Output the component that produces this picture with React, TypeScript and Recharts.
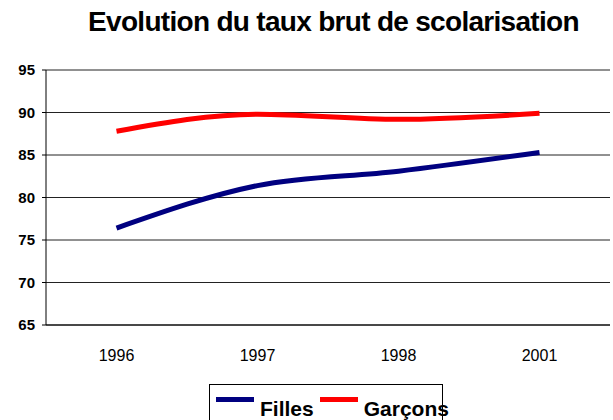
import React from "react";
import { LineChart, Line, XAxis, YAxis, CartesianGrid, Legend } from "recharts";

const years = ["1996", "1997", "1998", "2001"];
const filles = [76.4, 81.4, 83.1, 85.3];
const garcons = [87.8, 89.8, 89.2, 89.9];
const yTicks = [65, 70, 75, 80, 85, 90, 95];
const boundaryTicks = [-0.5, 0.5, 1.5, 2.5, 3.5];
const labelTicks = [0, 1, 2, 3];

const data = years.map((year, i) => ({ i, year, filles: filles[i], garcons: garcons[i] }));

const FONT = '"Liberation Sans", Arial, sans-serif';

const LegendBox = (props: any) => {
  const { payload } = props;
  return (
    <div
      style={{
        border: "1px solid #000",
        width: 234,
        height: 45,
        boxSizing: "border-box",
        display: "flex",
        alignItems: "flex-start",
        paddingLeft: 6,
        whiteSpace: "nowrap",
        overflow: "visible",
        fontFamily: FONT,
      }}
    >
      {(payload || []).map((p: any) => (
        <div key={p.value} style={{ display: "flex", alignItems: "flex-start" }}>
          <div style={{ width: 38, height: 5, background: p.color, marginTop: 12, marginRight: 6 }} />
          <div style={{ fontSize: 21, fontWeight: "bold", lineHeight: "21px", marginTop: 13, marginRight: 6, color: "#000" }}>
            {p.value}
          </div>
        </div>
      ))}
    </div>
  );
};

export default function App() {
  return (
    <div style={{ position: "absolute", left: 0, top: 0, width: 613, height: 420, overflow: "hidden", background: "#fff", fontFamily: FONT }}>
      <div
        style={{
          position: "absolute",
          top: 8,
          left: 27,
          width: 613,
          textAlign: "center",
          fontSize: 28,
          lineHeight: "28px",
          fontWeight: "bold",
          letterSpacing: -0.7,
          color: "#000",
        }}
      >
        Evolution du taux brut de scolarisation
      </div>
      <LineChart width={613} height={420} data={data} margin={{ top: 70, right: 3, left: 0, bottom: 5 }}>
        <CartesianGrid vertical={false} stroke="#222" strokeWidth={1} />
        <YAxis
          domain={[65, 95]}
          ticks={yTicks}
          width={46}
          tickSize={4}
          tickMargin={7}
          axisLine={{ stroke: "#000" }}
          tickLine={{ stroke: "#000" }}
          tick={{ fontSize: 15, fontWeight: "bold", fill: "#000", fontFamily: FONT }}
          interval={0}
        />
        <XAxis
          xAxisId="b"
          type="number"
          dataKey="i"
          domain={[-0.5, 3.5]}
          ticks={boundaryTicks}
          height={5}
          tickSize={5}
          tick={false}
          axisLine={{ stroke: "#000" }}
          tickLine={{ stroke: "#000" }}
          interval={0}
        />
        <XAxis
          xAxisId="l"
          type="number"
          dataKey="i"
          domain={[-0.5, 3.5]}
          ticks={labelTicks}
          height={40}
          tickSize={0}
          tickMargin={20}
          axisLine={false}
          tickLine={false}
          tickFormatter={(v: number) => years[v]}
          tick={{ fontSize: 16, fill: "#000", fontFamily: FONT }}
          interval={0}
        />
        <Legend
          content={<LegendBox />}
          verticalAlign="bottom"
          wrapperStyle={{ top: 384, left: 209, bottom: "auto", width: "auto" }}
        />
        <Line
          xAxisId="b"
          type="monotone"
          dataKey="filles"
          name="Filles"
          stroke="#000080"
          strokeWidth={5}
          dot={false}
          isAnimationActive={false}
        />
        <Line
          xAxisId="b"
          type="monotone"
          dataKey="garcons"
          name="Garçons"
          stroke="#FF0000"
          strokeWidth={5}
          dot={false}
          isAnimationActive={false}
        />
      </LineChart>
    </div>
  );
}
